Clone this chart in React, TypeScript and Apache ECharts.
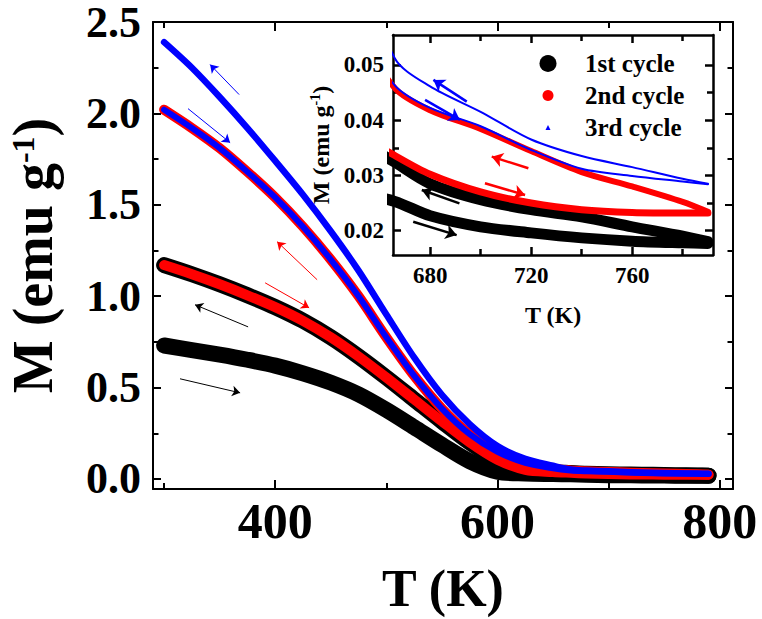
import React, { useEffect, useRef } from 'react';
import * as echarts from 'echarts';

// Temperature grid (K)
const temps = [300, 325, 350, 375, 400, 425, 450, 475, 500, 525, 550, 575, 600, 625, 650, 666, 680, 700, 720, 740, 760, 780, 790];
// Magnetisation (emu/g)
const heat1 = [0.73, 0.705, 0.68, 0.652, 0.62, 0.578, 0.527, 0.463, 0.378, 0.283, 0.187, 0.097, 0.04, 0.03, 0.027, 0.0253, 0.0227, 0.0207, 0.0196, 0.0187, 0.0181, 0.0178, 0.0177];
const cool1 = [1.17, 1.12, 1.065, 1.005, 0.94, 0.865, 0.775, 0.67, 0.555, 0.435, 0.315, 0.2, 0.105, 0.05, 0.037, 0.0324, 0.0285, 0.0256, 0.0238, 0.0225, 0.0207, 0.019, 0.018];
const heat2 = [1.17, 1.12, 1.065, 1.005, 0.94, 0.865, 0.775, 0.67, 0.555, 0.435, 0.315, 0.2, 0.105, 0.05, 0.038, 0.0336, 0.0302, 0.027, 0.025, 0.0238, 0.0233, 0.0232, 0.0232];
const cool2 = [2.02, 1.92, 1.81, 1.68, 1.54, 1.38, 1.2, 1.0, 0.775, 0.565, 0.385, 0.245, 0.148, 0.088, 0.058, 0.0458, 0.0418, 0.0384, 0.0344, 0.0306, 0.028, 0.0252, 0.0234];
const heat3 = [2.02, 1.92, 1.81, 1.68, 1.54, 1.38, 1.2, 1.0, 0.775, 0.565, 0.385, 0.245, 0.148, 0.088, 0.058, 0.0463, 0.0422, 0.0389, 0.0346, 0.0312, 0.0299, 0.0289, 0.0284];
const cool3 = [2.39, 2.25, 2.09, 1.92, 1.74, 1.555, 1.355, 1.14, 0.9, 0.665, 0.46, 0.3, 0.18, 0.11, 0.072, 0.0512, 0.0461, 0.0415, 0.0365, 0.0335, 0.0315, 0.0294, 0.0285];

const legendNames = ['1st cycle', '2nd cycle', '3rd cycle'];

// Tick values
const majorT = [400, 600, 800];
const minorT = [300, 500, 700];
const majorM = [0, 0.5, 1.0, 1.5, 2.0, 2.5];
const minorM = [0.25, 0.75, 1.25, 1.75, 2.25];
const insetMajorT = [680, 720, 760];
const insetMinorT = [700, 740, 780];
const insetMajorM = [0.02, 0.03, 0.04, 0.05];
const insetMinorM = [0.025, 0.035, 0.045];

// Direction arrows [T1, M1, T2, M2] (arrow head at T2, M2)
const mainArrowsBlack = [[314.3, 0.548, 368.4, 0.471], [375.6, 0.832, 327.8, 0.953]];
const mainArrowsRed = [[437.7, 1.09, 401.7, 1.298], [390.9, 1.073, 430.5, 0.936]];
const mainArrowsBlue = [[367.5, 2.103, 341.4, 2.267], [321.5, 2.026, 359.4, 1.84]];
const insetArrowsBlack = [[691.6, 0.02494, 676.7, 0.02736], [673.3, 0.02161, 690.5, 0.0192]];
const insetArrowsRed = [[718.9, 0.03129, 704.4, 0.03339], [701.7, 0.02857, 717.6, 0.02645]];
const insetArrowsBlue = [[694.5, 0.04335, 681.3, 0.04728], [678.0, 0.04366, 691.8, 0.04004]];

const FONT = '"Liberation Serif", "Times New Roman", serif';
const BLACK = '#000000';
const RED = '#ff0000';
const BLUE = '#0000ff';

function axis(gridIndex: number, position: string, min: number, max: number, ticks: number[], len: number, lw: number, showLine: boolean, extra: any = {}) {
  return {
    type: 'value',
    gridIndex,
    position,
    min,
    max,
    axisLine: { show: showLine, onZero: false, lineStyle: { color: BLACK, width: lw } },
    axisTick: { show: true, inside: true, length: len, customValues: ticks, lineStyle: { color: BLACK, width: lw } },
    axisLabel: { show: false },
    splitLine: { show: false },
    minorTick: { show: false },
    ...extra,
  };
}

function arrowMark(arrows: number[][], color: string, width: number, size: number) {
  return {
    silent: true,
    symbol: ['none', 'arrow'],
    symbolSize: [size, size],
    label: { show: false },
    emphasis: { disabled: true },
    lineStyle: { color, width, type: 'solid', opacity: 1 },
    data: arrows.map((a) => [{ coord: [a[0], a[1]] }, { coord: [a[2], a[3]] }]),
  };
}

function curve(name: string, arr: number[], color: string, width: number, axisIdx: number, arrows?: any) {
  const s: any = {
    type: 'line',
    name,
    xAxisIndex: axisIdx,
    yAxisIndex: axisIdx,
    data: temps.map((t, i) => [t, arr[i]]),
    showSymbol: false,
    symbol: 'none',
    smooth: 0.3,
    clip: true,
    itemStyle: { color },
    lineStyle: { color, width, cap: 'round', join: 'round' },
    emphasis: { disabled: true },
  };
  if (arrows) s.markLine = arrows;
  return s;
}

export default function App() {
  const ref = useRef<HTMLDivElement>(null);
  useEffect(() => {
    if (!ref.current) return;
    const chart = echarts.init(ref.current, undefined, { renderer: 'svg' });
    const bigLabel = { fontFamily: FONT, fontWeight: 'bold', fontSize: 44, lineHeight: 40, color: BLACK };
    const smallLabel = { fontFamily: FONT, fontWeight: 'bold', fontSize: 23, color: BLACK };

    const xAxes = [
      axis(0, 'bottom', 290, 812, majorT, 9, 2, true, {
        axisLabel: { show: true, customValues: majorT, margin: 12, ...bigLabel, fontSize: 50 },
        name: 'T (K)',
        nameLocation: 'middle',
        nameGap: 77,
        nameTextStyle: { fontFamily: FONT, fontWeight: 'bold', fontSize: 52, lineHeight: 44, color: BLACK },
      }),
      axis(0, 'bottom', 290, 812, minorT, 6, 2, false),
      axis(0, 'top', 290, 812, majorT, 9, 2, true),
      axis(0, 'top', 290, 812, minorT, 6, 2, false),
      axis(1, 'bottom', 665.3, 792, insetMajorT, 8, 2.5, true, {
        axisLabel: { show: true, customValues: insetMajorT, margin: 9, ...smallLabel },
        name: 'T (K)',
        nameLocation: 'middle',
        nameGap: 48,
        nameTextStyle: { fontFamily: FONT, fontWeight: 'bold', fontSize: 24, color: BLACK },
      }),
      axis(1, 'bottom', 665.3, 792, insetMinorT, 6, 2.5, false),
      axis(1, 'top', 665.3, 792, insetMajorT, 8, 2.5, true),
      axis(1, 'top', 665.3, 792, insetMinorT, 6, 2.5, false),
    ];
    const yAxes = [
      axis(0, 'left', -0.055, 2.5, majorM, 8, 2, true, {
        axisLabel: { show: true, customValues: majorM, margin: 12, formatter: (v: number) => v.toFixed(1), ...bigLabel },
        name: '{a|M (emu g}{s|-1}{a|)}',
        nameLocation: 'middle',
        nameGap: 94,
        nameRotate: 90,
        nameTextStyle: {
          rich: {
            a: { fontFamily: FONT, fontWeight: 'bold', fontSize: 56, color: BLACK, lineHeight: 52 },
            s: { fontFamily: FONT, fontWeight: 'bold', fontSize: 32, color: BLACK, verticalAlign: 'top', lineHeight: 52, padding: [0, 0, 18, 0] },
          },
        },
      }),
      axis(0, 'left', -0.055, 2.5, minorM, 5.5, 2, false),
      axis(0, 'right', -0.055, 2.5, majorM, 8, 2, true),
      axis(0, 'right', -0.055, 2.5, minorM, 5.5, 2, false),
      axis(1, 'left', 0.0156, 0.0554, insetMajorM, 8, 2.5, true, {
        axisLabel: { show: true, customValues: insetMajorM, margin: 9, formatter: (v: number) => v.toFixed(2), ...smallLabel },
        name: '{a|M (emu g}{s|-1}{a|)}',
        nameLocation: 'middle',
        nameGap: 59,
        nameRotate: 90,
        nameTextStyle: {
          rich: {
            a: { fontFamily: FONT, fontWeight: 'bold', fontSize: 24, color: BLACK, lineHeight: 26 },
            s: { fontFamily: FONT, fontWeight: 'bold', fontSize: 14, color: BLACK, verticalAlign: 'top', lineHeight: 26, padding: [0, 0, 8, 0] },
          },
        },
      }),
      axis(1, 'left', 0.0156, 0.0554, insetMinorM, 6, 2.5, false),
      axis(1, 'right', 0.0156, 0.0554, insetMajorM, 8, 2.5, true),
      axis(1, 'right', 0.0156, 0.0554, insetMinorM, 6, 2.5, false),
    ];

    const series = [
      curve(legendNames[0], heat1, BLACK, 16, 0, arrowMark(mainArrowsBlack, BLACK, 1, 8)),
      curve(legendNames[0], cool1, BLACK, 16, 0),
      curve(legendNames[1], heat2, RED, 10, 0, arrowMark(mainArrowsRed, RED, 1, 8)),
      curve(legendNames[1], cool2, RED, 10, 0),
      curve(legendNames[2], heat3, BLUE, 6, 0, arrowMark(mainArrowsBlue, BLUE, 1, 8)),
      curve(legendNames[2], cool3, BLUE, 6.5, 0),
      curve(legendNames[0], heat1, BLACK, 11, 4, arrowMark(insetArrowsBlack, BLACK, 2.5, 11)),
      curve(legendNames[0], cool1, BLACK, 11, 4),
      curve(legendNames[1], heat2, RED, 7, 4, arrowMark(insetArrowsRed, RED, 2.5, 11)),
      curve(legendNames[1], cool2, RED, 6, 4),
      curve(legendNames[2], heat3, BLUE, 2, 4, arrowMark(insetArrowsBlue, BLUE, 2.5, 11)),
      curve(legendNames[2], cool3, BLUE, 2, 4),
    ];

    const legText = { fontFamily: FONT, fontWeight: 'bold', fontSize: 25, color: BLACK, lineHeight: 24 };
    const legend = [
      { data: [{ name: legendNames[0], icon: 'circle' }], left: 539.5, top: 51, itemWidth: 17, itemHeight: 17, padding: 0, selectedMode: false, textStyle: { ...legText, padding: [0, 0, 0, 23.5] } },
      { data: [{ name: legendNames[1], icon: 'circle' }], left: 542.5, top: 83, itemWidth: 11, itemHeight: 11, padding: 0, selectedMode: false, textStyle: { ...legText, padding: [0, 0, 0, 26.5] } },
      { data: [{ name: legendNames[2], icon: 'triangle' }], left: 545.5, top: 115, itemWidth: 5, itemHeight: 5, padding: 0, selectedMode: false, textStyle: { ...legText, padding: [0, 0, 0, 29.5] } },
    ];

    chart.setOption({
      animation: false,
      backgroundColor: '#ffffff',
      grid: [
        { left: 153, top: 22, right: 29, bottom: 130, containLabel: false, outerBoundsMode: 'none' },
        { left: 393, top: 35, right: 49, bottom: 364, containLabel: false, outerBoundsMode: 'none', show: true, backgroundColor: '#ffffff', borderWidth: 0 },
      ],
      legend,
      xAxis: xAxes,
      yAxis: yAxes,
      series,
    });
    return () => chart.dispose();
  }, []);
  return <div ref={ref} style={{ position: 'fixed', left: 0, top: 0, width: 762, height: 619, background: '#fff' }} />;
}
